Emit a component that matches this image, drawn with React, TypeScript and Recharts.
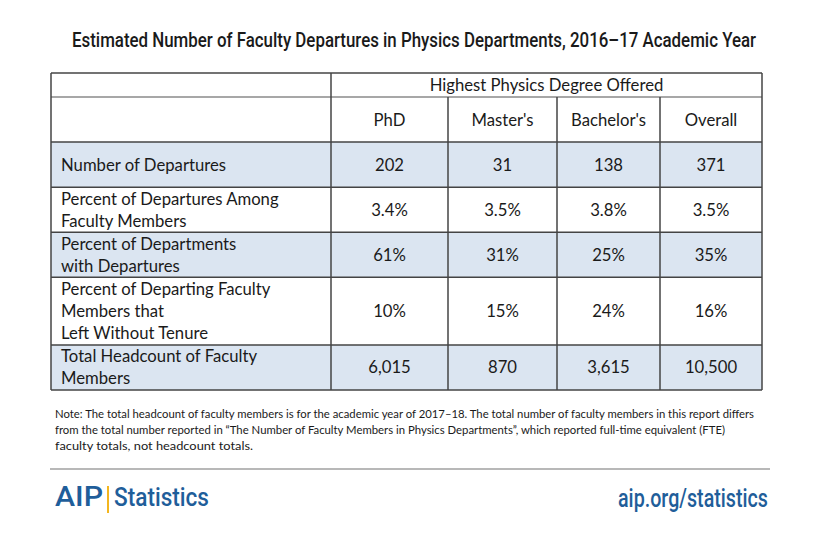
import React from 'react';
import {
  ScatterChart,
  Scatter,
  XAxis,
  YAxis,
  ReferenceArea,
  ReferenceLine,
} from 'recharts';

// Table content
const title =
  'Estimated Number of Faculty Departures in Physics Departments, 2016\u201317 Academic Year';
const groupHeader = 'Highest Physics Degree Offered';
const columns = ['PhD', "Master's", "Bachelor's", 'Overall'];
const rowLabels = [
  ['Number of Departures'],
  ['Percent of Departures Among', 'Faculty Members'],
  ['Percent of Departments', 'with Departures'],
  ['Percent of Departing Faculty', 'Members that', 'Left Without Tenure'],
  ['Total Headcount of Faculty', 'Members'],
];
const rowKinds = ['count', 'pct1', 'pct0', 'pct0', 'count'];
const shadedRows = [true, false, true, false, true];

const phdValues = [202, 3.4, 61, 10, 6015];
const mastersValues = [31, 3.5, 31, 15, 870];
const bachelorsValues = [138, 3.8, 25, 24, 3615];
const overallValues = [371, 3.5, 35, 16, 10500];
const seriesValues = [phdValues, mastersValues, bachelorsValues, overallValues];

const noteLines = [
  'Note: The total headcount of faculty members is for the academic year of 2017\u201318. The total number of faculty members in this report differs',
  'from the total number reported in \u201cThe Number of Faculty Members in Physics Departments\u201d, which reported full-time equivalent (FTE)',
  'faculty totals, not headcount totals.',
];

// Layout (table units)
const COL_WIDTHS = [280, 117, 109, 103, 102];
const LINE_H = 22.5;
const rowHeights = [24, 45, ...rowLabels.map((l) => Math.max(2, l.length) * LINE_H)];

const cumulate = (arr: number[]) =>
  arr.reduce((acc, v) => [...acc, acc[acc.length - 1] + v], [0]);
const colEdges = cumulate(COL_WIDTHS);
const rowEdges = cumulate(rowHeights);
const TABLE_W = colEdges[colEdges.length - 1];
const TABLE_H = rowEdges[rowEdges.length - 1];
const rowMid = (r: number) => (rowEdges[r] + rowEdges[r + 1]) / 2;
const colMid = (c: number) => (colEdges[c] + colEdges[c + 1]) / 2;

const FONT = 'Lato, "Open Sans", sans-serif';
const FONT_SIZE = 16.7;
const TEXT = '#1a1a1a';
const SHADE = '#dbe5f1';
const BORDER = '#444';
const BLUE = '#1f5e9a';

const formatValue = (kind: string, v: number) => {
  if (kind === 'pct1') return `${v.toFixed(1)}%`;
  if (kind === 'pct0') return `${v.toFixed(0)}%`;
  return v.toLocaleString('en-US');
};

const headerPoints = [
  { x: (colEdges[1] + TABLE_W) / 2, y: rowMid(0), text: groupHeader },
  ...columns.map((c, i) => ({ x: colMid(i + 1), y: rowMid(1), text: c })),
];

const labelPoints = rowLabels.map((lines, r) => ({ x: 0, y: rowMid(r + 2), lines }));

const valuePoints = seriesValues.flatMap((vals, c) =>
  vals.map((v, r) => ({
    x: colMid(c + 1),
    y: rowMid(r + 2),
    text: formatValue(rowKinds[r], v),
  }))
);

const CellText = (props: any) => {
  const { cx, cy, payload } = props;
  return (
    <text
      x={cx}
      y={cy}
      textAnchor="middle"
      dominantBaseline="central"
      fontFamily={FONT}
      fontSize={FONT_SIZE}
      fill={TEXT}
    >
      {payload.text}
    </text>
  );
};

const LabelText = (props: any) => {
  const { cx, cy, payload } = props;
  const lines: string[] = payload.lines;
  const top = cy - ((lines.length - 1) * 22) / 2;
  return (
    <text fontFamily={FONT} fontSize={FONT_SIZE} fill={TEXT} dominantBaseline="central">
      {lines.map((line, i) => (
        <tspan key={i} x={cx + 10} y={top + i * 22}>
          {line}
        </tspan>
      ))}
    </text>
  );
};

const hLines = rowEdges.map((y, i) => ({
  seg: [
    { x: 0, y },
    { x: TABLE_W, y },
  ],
  color: i === 1 ? '#8a8a8a' : BORDER,
}));

const vLines = colEdges.map((x, i) => ({
  seg: [
    { x, y: i <= 1 || i === colEdges.length - 1 ? 0 : rowEdges[1] },
    { x, y: TABLE_H },
  ],
}));

// condensed text: draw at natural-ish length then squeeze horizontally
const Narrow = ({ x, y, width, squeeze, anchor = 'start', children, ...rest }: any) => (
  <text
    transform={`translate(${x},${y}) scale(${squeeze},1)`}
    textLength={width / squeeze}
    lengthAdjust="spacingAndGlyphs"
    textAnchor={anchor}
    {...rest}
  >
    {children}
  </text>
);

const App = () => {
  return (
    <div
      style={{
        position: 'absolute',
        left: 0,
        top: 0,
        width: 820,
        height: 550,
        background: '#fff',
      }}
    >
      <ScatterChart
        width={820}
        height={550}
        margin={{ top: 73, right: 58, bottom: 160, left: 51 }}
      >
        <XAxis type="number" dataKey="x" domain={[0, TABLE_W]} hide />
        <YAxis type="number" dataKey="y" domain={[0, TABLE_H]} reversed hide />
        {shadedRows.map((s, r) =>
          s ? (
            <ReferenceArea
              key={`shade-${r}`}
              x1={0}
              x2={TABLE_W}
              y1={rowEdges[r + 2]}
              y2={rowEdges[r + 3]}
              fill={SHADE}
              fillOpacity={1}
              stroke="none"
            />
          ) : null
        )}
        {hLines.map((l, i) => (
          <ReferenceLine
            key={`h-${i}`}
            segment={l.seg}
            stroke={l.color}
            strokeWidth={1.5}
          />
        ))}
        {vLines.map((l, i) => (
          <ReferenceLine key={`v-${i}`} segment={l.seg} stroke={BORDER} strokeWidth={1.5} />
        ))}
        <Scatter data={headerPoints} shape={CellText} isAnimationActive={false} />
        <Scatter data={labelPoints} shape={LabelText} isAnimationActive={false} />
        <Scatter data={valuePoints} shape={CellText} isAnimationActive={false} />
      </ScatterChart>

      <svg
        width={820}
        height={550}
        style={{ position: 'absolute', left: 0, top: 0, pointerEvents: 'none' }}
      >
        <Narrow
          x={72}
          y={47}
          width={684}
          squeeze={0.82}
          fontFamily="Roboto, sans-serif"
          fontWeight={500}
          fontSize={20}
          fill={TEXT}
        >
          {title}
        </Narrow>
        {noteLines.map((line, i) => (
          <Narrow
            key={i}
            x={55}
            y={418 + i * 16}
            width={[699, 670, 198][i]}
            squeeze={0.9}
            fontFamily={FONT}
            fontSize={12}
            fill={TEXT}
          >
            {line}
          </Narrow>
        ))}
        <line x1={50} x2={770} y1={469} y2={469} stroke="#b8b8b8" strokeWidth={2} />
        <Narrow
          x={55}
          y={506}
          width={48}
          squeeze={0.95}
          fontFamily="Roboto, sans-serif"
          fontWeight={500}
          fontSize={27}
          fill={BLUE}
        >
          AIP
        </Narrow>
        <rect x={107} y={486} width={2} height={27} fill="#f3b61f" />
        <Narrow
          x={114}
          y={506}
          width={95}
          squeeze={0.85}
          fontFamily="Roboto, sans-serif"
          fontWeight={500}
          fontSize={25}
          fill={BLUE}
        >
          Statistics
        </Narrow>
        <Narrow
          x={618}
          y={507}
          width={150}
          squeeze={0.8}
          fontFamily="Roboto, sans-serif"
          fontWeight={500}
          fontSize={25}
          fill={BLUE}
        >
          aip.org/statistics
        </Narrow>
      </svg>
    </div>
  );
};

export default App;
